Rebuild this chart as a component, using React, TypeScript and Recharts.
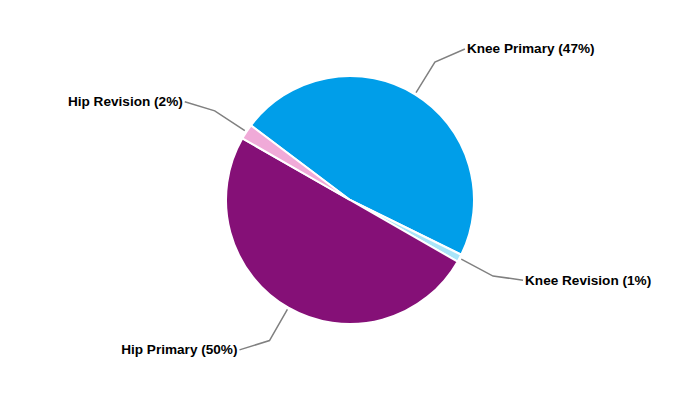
import React from 'react';
import { PieChart, Pie, Cell } from 'recharts';

const NAMES = ['Knee Primary', 'Knee Revision', 'Hip Primary', 'Hip Revision'];
const VALUES = [47, 1, 50, 2];
const COLORS = ['#009EE9', '#A9E5F9', '#851077', '#F0AAD8'];

const RADIAN = Math.PI / 180;

const renderLabel = (props: any) => {
  const { cx, cy, midAngle, outerRadius, percent, name } = props;
  const cos = Math.cos(-midAngle * RADIAN);
  const sin = Math.sin(-midAngle * RADIAN);
  const sx = cx + (outerRadius + 2) * cos;
  const sy = cy + (outerRadius + 2) * sin;
  const mx = cx + (outerRadius + 38) * cos;
  const my = cy + (outerRadius + 38) * sin;
  const right = cos >= 0;
  const ex = mx + (right ? 30 : -30);
  const ey = my - 2 + 13 * sin;
  return (
    <g>
      <polyline
        points={`${sx},${sy} ${mx},${my} ${ex},${ey}`}
        fill="none"
        stroke="#808080"
        strokeWidth={1.5}
      />
      <text
        x={ex + (right ? 2 : -2)}
        y={ey}
        textAnchor={right ? 'start' : 'end'}
        dominantBaseline="central"
        fontFamily="'Liberation Sans', Arial, sans-serif"
        fontWeight="bold"
        fontSize={13.6}
        fill="#000"
      >
        {`${name} (${Math.round(percent * 100)}%)`}
      </text>
    </g>
  );
};

const App: React.FC = () => {
  const data = NAMES.map((name, i) => ({ name, value: VALUES[i] }));

  return (
    <div style={{ width: 700, height: 400, background: '#fff' }}>
      <style>{'body { margin: 0; }'}</style>
      <PieChart width={700} height={400} margin={{ top: 0, right: 0, bottom: 0, left: 0 }}>
        <Pie
          data={data}
          dataKey="value"
          nameKey="name"
          cx={350}
          cy={200}
          outerRadius={124}
          startAngle={143}
          endAngle={-217}
          stroke="#fff"
          strokeWidth={2}
          label={renderLabel}
          labelLine={false}
          isAnimationActive={false}
        >
          {data.map((_, i) => (
            <Cell key={`cell-${i}`} fill={COLORS[i]} />
          ))}
        </Pie>
      </PieChart>
    </div>
  );
};

export default App;
